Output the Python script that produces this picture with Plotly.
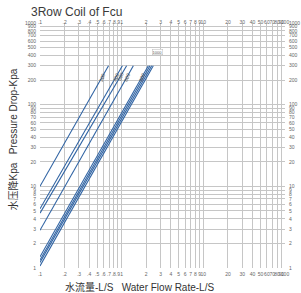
import math
import plotly.graph_objects as go

# Data (flow rate L/S, pressure drop kPa)
line_names = ["300", "400", "500", "600", "800", "850", "900", "1000"]
q_start = [0.1, 0.1, 0.1, 0.1, 0.1, 0.1, 0.1, 0.1]
dp_start = [10.0, 5.3, 4.7, 2.9, 1.37, 1.25, 1.17, 1.06]
q_end = [0.69, 1.02, 1.15, 1.39, 2.12, 2.22, 2.33, 2.44]
dp_end = [300, 300, 300, 300, 300, 300, 300, 300]

x_ticks = [0.1, 0.2, 0.3, 0.4, 0.5, 0.6, 0.7, 0.8, 0.9, 1, 2, 3, 4, 5, 6, 7, 8, 9, 10,
           20, 30, 40, 50, 60, 70, 80, 90, 100]
x_labels = [".1", ".2", ".3", ".4", ".5", ".6", ".7", ".8", ".9", "1", "2", "3", "4", "5",
            "6", "7", "8", "9", "10", "20", "30", "40", "50", "60", "70", "80", "90", "100"]
y_ticks = [1, 2, 3, 4, 5, 6, 7, 8, 9, 10, 20, 30, 40, 50, 60, 70, 80, 90, 100,
           200, 300, 400, 500, 600, 700, 800, 900, 1000]
y_labels = [str(v) for v in y_ticks]

BLUE = "#2f63a3"
GRID = "#c6c6c6"
TICKFONT = dict(family="Liberation Sans, Arial, sans-serif", size=5, color="#666666")

fig = go.Figure()
for i in range(len(line_names)):
    fig.add_trace(go.Scatter(
        x=[q_start[i], q_end[i]], y=[dp_start[i], dp_end[i]],
        mode="lines", line=dict(color=BLUE, width=1.1),
        showlegend=False, hoverinfo="skip"))

# invisible trace for the top/right axes
fig.add_trace(go.Scatter(x=[1], y=[10], xaxis="x2", yaxis="y2", mode="markers",
                         marker=dict(opacity=0), showlegend=False, hoverinfo="skip"))

axis_common = dict(type="log", showline=False, zeroline=False, ticks="", ticklen=0,
                   gridcolor=GRID, gridwidth=1, tickfont=TICKFONT, tickangle=0,
                   automargin=False)

fig.update_layout(
    width=301, height=293,
    margin=dict(l=40, r=16, t=23, b=25, autoexpand=False),
    paper_bgcolor="white", plot_bgcolor="white",
    xaxis=dict(**axis_common, range=[-1, 2], tickvals=x_ticks, ticktext=x_labels,
               ticklabelstandoff=2),
    yaxis=dict(**axis_common, range=[0, 3], tickvals=y_ticks, ticktext=y_labels,
               ticklabelstandoff=3),
    xaxis2=dict(**axis_common, range=[-1, 2], tickvals=x_ticks, ticktext=x_labels,
                overlaying="x", side="top", showgrid=False, ticklabelstandoff=-3),
    yaxis2=dict(**axis_common, range=[0, 3], tickvals=y_ticks, ticktext=y_labels,
                overlaying="y", side="right", showgrid=False, ticklabelstandoff=3),
)

fig.add_annotation(text="3Row Coil of Fcu", xref="paper", yref="paper",
                   x=-0.045, y=1.045, xanchor="left", yanchor="middle", showarrow=False,
                   font=dict(family="Liberation Sans, Arial, sans-serif", size=12, color="#3a3a3a"))
fig.add_annotation(text="水流量-L/S   Water Flow Rate-L/S", xref="paper", yref="paper",
                   x=0.405, y=-0.079, xanchor="center", yanchor="middle", showarrow=False,
                   font=dict(family="Liberation Sans, Noto Sans CJK SC, sans-serif", size=10, color="#333333"))
fig.add_annotation(text="水压降Kpa   Pressure Drop-Kpa", xref="paper", yref="paper",
                   x=-0.11, y=0.525, xanchor="center", yanchor="middle", showarrow=False,
                   textangle=-90,
                   font=dict(family="Liberation Sans, Noto Sans CJK SC, sans-serif", size=10, color="#333333"))

# small rotated model labels near the line tops
for i in [0, 1, 2, 3, 4]:
    fig.add_annotation(text=line_names[i], x=math.log10(q_end[i]) - 0.08,
                       y=math.log10(220), xref="x", yref="y",
                       showarrow=False, textangle=-70,
                       font=dict(family="Liberation Sans, Arial, sans-serif", size=5, color="#555555"))
fig.add_annotation(text=line_names[7], x=math.log10(q_end[7]) + 0.05,
                   y=math.log10(440), xref="x", yref="y",
                   showarrow=False, bgcolor="white", bordercolor="#bbbbbb", borderwidth=0.5,
                   borderpad=0,
                   font=dict(family="Liberation Sans, Arial, sans-serif", size=4, color="#555555"))

fig.write_html("out.html", config={"displayModeBar": False},
               post_script="document.body.style.margin='0';document.body.style.padding='0';")
